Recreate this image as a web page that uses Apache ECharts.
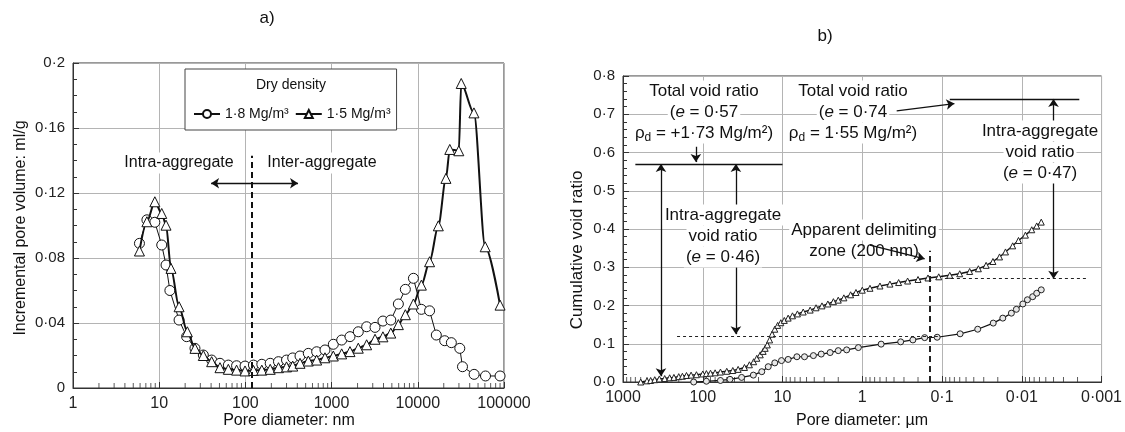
<!DOCTYPE html>
<html><head><meta charset="utf-8">
<script src="https://cdn.jsdelivr.net/npm/echarts@6/dist/echarts.min.js"></script>
<style>html,body{margin:0;padding:0;background:#fff}#c{width:1125px;height:432px}</style>
</head><body><div id="c"></div>
<script>
// ---------- Panel a : incremental pore volume (ml/g) vs pore diameter (nm)
const circA_x = [5.9,7.2,8.9,10.7,12.0,13.3,17,20.8,26,32.5,40.6,50.7,63.4,79,99,124,155,194,242,300,354,430,537,671,838,1047,1309,1634,2040,2550,3190,3940,4860,5950,7170,8900,11000,13700,16400,20500,24500,30700,33000,45000,61000,90000];
const circA_y = [0.089,0.1035,0.102,0.088,0.0757,0.060,0.0418,0.0316,0.0244,0.0203,0.0172,0.0152,0.0141,0.0137,0.0135,0.0141,0.0146,0.0152,0.0162,0.0172,0.0185,0.0197,0.0213,0.0223,0.0234,0.0269,0.0295,0.0316,0.0346,0.0377,0.0373,0.0412,0.0418,0.0517,0.0607,0.0675,0.0484,0.0475,0.0326,0.0291,0.0279,0.0244,0.0131,0.0084,0.0074,0.0074];
const triA_x = [5.9,7.2,8.9,10.7,12.0,13.7,17,21.2,26,32.5,40.6,50.7,63.4,79,99,124,155,194,242,300,354,430,537,671,838,1047,1309,1634,2040,2550,3190,3940,4860,5950,7170,8900,11000,13700,17300,21200,23500,29900,31900,44800,60500,90000];
const triA_y = [0.0843,0.1023,0.1146,0.1074,0.1002,0.0736,0.050,0.0346,0.0244,0.0200,0.0162,0.0125,0.0115,0.0110,0.0105,0.0108,0.0110,0.0115,0.0125,0.0130,0.0135,0.0152,0.0166,0.0172,0.0186,0.0197,0.0210,0.0224,0.0245,0.0266,0.0300,0.0315,0.0338,0.0390,0.0451,0.0517,0.0633,0.0777,0.0998,0.129,0.1468,0.146,0.1874,0.1693,0.0869,0.051];
const xTicksA = ['1','10','100','1000','10000','100000'];
const yTicksA = ['0','0·04','0·08','0·12','0·16','0·2'];
const legendA = ['1·8 Mg/m³','1·5 Mg/m³'];

// ---------- Panel b : cumulative void ratio vs pore diameter (um)
const circB_x = [130,90,60,45.6,32.6,23.2,18.2,15.1,12.5,10.3,8.5,6.6,5.3,4.1,3.27,2.53,2.0,1.57,1.12,0.58,0.33,0.232,0.165,0.115,0.0593,0.0357,0.0228,0.0173,0.0135,0.0117,0.0097,0.0085,0.0073,0.0065,0.0057];
const circB_y = [0.0,0.002,0.004,0.007,0.012,0.018,0.027,0.040,0.050,0.056,0.059,0.066,0.066,0.069,0.073,0.077,0.082,0.084,0.090,0.099,0.105,0.110,0.116,0.117,0.126,0.138,0.154,0.167,0.180,0.190,0.204,0.215,0.223,0.232,0.241];
const triB_x = [600,500,450,400,350,300,260,230,200,180,160,140,120,100,90,80,70,60,50,42,36,30,26,23,21,19,17.5,16.5,15.5,14.5,13.5,12.5,11.5,10.5,9.5,8.5,7.5,6.5,5.5,4.5,3.8,3.2,2.7,2.3,2.0,1.7,1.4,1.2,1.0,0.8,0.6,0.45,0.35,0.27,0.2,0.15,0.11,0.08,0.06,0.045,0.035,0.028,0.023,0.019,0.016,0.013,0.011,0.009,0.0075,0.0065,0.0057];
const triB_y = [0.0,0.003,0.004,0.006,0.008,0.009,0.011,0.012,0.014,0.015,0.017,0.018,0.019,0.021,0.022,0.023,0.024,0.026,0.028,0.030,0.033,0.038,0.045,0.053,0.062,0.071,0.080,0.088,0.097,0.110,0.125,0.138,0.148,0.155,0.161,0.167,0.173,0.178,0.183,0.188,0.194,0.199,0.204,0.210,0.214,0.220,0.228,0.234,0.240,0.245,0.251,0.256,0.260,0.264,0.268,0.272,0.275,0.279,0.283,0.289,0.296,0.305,0.315,0.327,0.340,0.356,0.370,0.384,0.398,0.408,0.418];
const xTicksB = ['0·001','0·01','0·1','1','10','100','1000'];
const yTicksB = ['0·0','0·1','0·2','0·3','0·4','0·5','0·6','0·7','0·8'];

const FF = "'Liberation Sans', Arial, Helvetica, sans-serif";
const INK = '#111';
const zip = (a, b) => a.map((v, i) => [v, b[i]]);
const minorLog = (lo, hi) => { const r = []; for (let d = lo; d < hi * 0.999; d *= 10) for (let k = 2; k <= 9; k++) r.push([d * k, 0]); return r; };

const chart = echarts.init(document.getElementById('c'), null, { renderer: 'canvas' });

const axisCommon = {
  axisLine: { lineStyle: { color: '#333', width: 1 } },
  axisTick: { inside: true, length: 6, lineStyle: { color: '#333' } },
  splitLine: { show: true, lineStyle: { color: '#b4b4b4', width: 1 } },
};
const lbl = (arr, fn, size) => ({ fontSize: size, color: '#222', fontFamily: FF, formatter: v => arr[fn(v)] });

const seg = (x1, y1, x2, y2, s1, s2, style) => [
  { coord: [x1, y1], symbol: s1 || 'none' },
  { coord: [x2, y2], symbol: s2 || 'none', lineStyle: style || {} }
];
const solid = { color: INK, width: 1.3, type: 'solid' };
const dashedThin = { color: '#222', width: 1, type: [3, 3] };
const dashedThick = { color: '#222', width: 2, type: [6, 4] };

const richB = {
  i: { fontStyle: 'italic', fontSize: 17, fontFamily: FF, lineHeight: 21 },
  s: { fontSize: 12, fontFamily: FF, lineHeight: 12, verticalAlign: 'bottom' }
};
const txt = (x, y, text, size, extra) => Object.assign({
  type: 'text', x: x, y: y, z: 100,
  style: Object.assign({ text: text, textAlign: 'center', textVerticalAlign: 'middle', fontSize: size, fontFamily: FF, fill: INK, lineHeight: 21 }, extra || {})
});
// one white-backed text element per line of an annotation block
const block = (x, yTop, lines, noBg) => lines.map((t, k) =>
  txt(x, yTop + 21 * k, t, 17, Object.assign({ padding: [0, 2], rich: richB },
    (noBg && noBg.indexOf(k) >= 0) ? {} : { backgroundColor: '#fff' })));

const option = {
  animation: false,
  backgroundColor: '#fff',
  grid: [
    { left: 73, top: 63, width: 431, height: 325, show: true, borderColor: '#333', borderWidth: 1 },
    { left: 623, top: 76, width: 479, height: 306, show: true, borderColor: '#333', borderWidth: 1 }
  ],
  xAxis: [
    Object.assign({}, axisCommon, { type: 'log', logBase: 10, gridIndex: 0, min: 1, max: 100000, splitNumber: 5,
      axisLabel: lbl(xTicksA, v => Math.round(Math.log10(v)), 16) }),
    Object.assign({}, axisCommon, { type: 'log', logBase: 10, gridIndex: 1, min: 0.001, max: 1000, splitNumber: 6, inverse: true,
      axisLabel: lbl(xTicksB, v => Math.round(Math.log10(v)) + 3, 16) })
  ],
  yAxis: [
    Object.assign({}, axisCommon, { type: 'value', gridIndex: 0, min: 0, max: 0.2, interval: 0.04,
      minorTick: { show: true, splitNumber: 4, length: 4, lineStyle: { color: '#333' } },
      axisLabel: lbl(yTicksA, v => Math.round(v / 0.04), 15) }),
    Object.assign({}, axisCommon, { type: 'value', gridIndex: 1, min: 0, max: 0.8, interval: 0.1,
      minorTick: { show: true, splitNumber: 5, length: 4, lineStyle: { color: '#333' } },
      axisLabel: lbl(yTicksB, v => Math.round(v / 0.1), 15) })
  ],
  legend: {
    data: legendA, left: 185, top: 69, padding: [38, 6, 9, 8], itemGap: 6, itemWidth: 26, itemHeight: 10,
    borderColor: '#444', borderWidth: 1, backgroundColor: '#fff', borderRadius: 0,
    textStyle: { fontSize: 14, fontFamily: FF, color: INK }, selectedMode: false
  },
  series: [
    { type: 'scatter', xAxisIndex: 0, yAxisIndex: 0, data: minorLog(1, 100000), symbol: 'rect', symbolSize: [1, 5], symbolOffset: [0, -2.5],
      itemStyle: { color: '#333' }, silent: true, z: 1 },
    { type: 'scatter', xAxisIndex: 1, yAxisIndex: 1, data: minorLog(0.001, 1000), symbol: 'rect', symbolSize: [1, 5], symbolOffset: [0, -2.5],
      itemStyle: { color: '#333' }, silent: true, z: 1 },
    { name: legendA[0], type: 'line', xAxisIndex: 0, yAxisIndex: 0, data: zip(circA_x, circA_y),
      symbol: 'circle', symbolSize: 10, itemStyle: { color: '#fff', borderColor: INK, borderWidth: 1 },
      lineStyle: { color: INK, width: 1 }, z: 3 },
    { name: legendA[1], type: 'line', xAxisIndex: 0, yAxisIndex: 0, data: zip(triA_x, triA_y),
      symbol: 'triangle', symbolSize: 10, smooth: 0.3, smoothMonotone: 'x',
      itemStyle: { color: '#fff', borderColor: INK, borderWidth: 1 },
      lineStyle: { color: INK, width: 2 }, z: 4,
      markLine: { silent: true, symbol: 'none', symbolSize: 8, label: { show: false }, lineStyle: solid,
        data: [
          seg(40, 0.126, 408, 0.126, 'arrow', 'arrow', { color: INK, width: 1.3, type: 'solid' }),
          seg(119, 0, 119, 0.143, 'none', 'none', { color: INK, width: 2, type: [6, 4] })
        ] } },
    { name: 'e0.57', type: 'line', xAxisIndex: 1, yAxisIndex: 1, data: zip(circB_x, circB_y),
      symbol: 'circle', symbolSize: 6, itemStyle: { color: '#e8e8e8', borderColor: '#222', borderWidth: 1 },
      lineStyle: { color: INK, width: 1.2 }, z: 3 },
    { name: 'e0.74', type: 'line', xAxisIndex: 1, yAxisIndex: 1, data: zip(triB_x, triB_y),
      symbol: 'triangle', symbolSize: 6, itemStyle: { color: '#fff', borderColor: '#222', borderWidth: 1 },
      lineStyle: { color: INK, width: 1.4 }, z: 4,
      markLine: { silent: true, symbol: 'none', symbolSize: 8, label: { show: false }, lineStyle: solid,
        data: [
          seg(700, 0.57, 10, 0.57, 'none', 'none', solid),
          seg(122, 0.615, 122, 0.575, 'none', 'arrow', solid),
          seg(334, 0.57, 334, 0.015, 'arrow', 'arrow', solid),
          seg(38.4, 0.46, 38.4, 0.57, 'none', 'arrow', solid),
          seg(38.4, 0.32, 38.4, 0.125, 'none', 'arrow', solid),
          seg(210, 0.12, 0.113, 0.12, 'none', 'none', dashedThin),
          seg(0.08, 0.74, 0.0019, 0.74, 'none', 'none', solid),
          seg(0.37, 0.709, 0.07, 0.728, 'none', 'arrow', solid),
          seg(0.004, 0.74, 0.004, 0.27, 'arrow', 'arrow', solid),
          seg(0.092, 0.27, 0.0015, 0.27, 'none', 'none', dashedThin),
          seg(0.142, 0, 0.142, 0.343, 'none', 'none', dashedThick),
          seg(0.8, 0.358, 0.165, 0.322, 'none', 'arrow', solid)
        ] } }
  ],
  graphic: [
    txt(267, 18, 'a)', 17),
    txt(825, 36, 'b)', 17),
    txt(289, 421, 'Pore diameter: nm', 16),
    txt(862, 421, 'Pore diameter: µm', 16),
    Object.assign(txt(21, 228, 'Incremental pore volume: ml/g', 16), { rotation: Math.PI / 2 }),
    Object.assign(txt(577, 250, 'Cumulative void ratio', 17), { rotation: Math.PI / 2 }),
    txt(291, 85, 'Dry density', 14, { z: 101 }),
    txt(179, 163, 'Intra-aggregate', 16, { backgroundColor: '#fff' }),
    txt(322, 163, 'Inter-aggregate', 16, { backgroundColor: '#fff' })
  ].concat(
    block(704, 91, ['Total void ratio', '({i|e} = 0·57', 'ρ{s|d} = +1·73 Mg/m²)']),
    block(853, 91, ['Total void ratio', '({i|e} = 0·74', 'ρ{s|d} = 1·55 Mg/m²)']),
    block(723, 215, ['Intra-aggregate', 'void ratio', '({i|e} = 0·46)']),
    block(864, 230, ['Apparent delimiting', 'zone (200 nm)'], [1]),
    block(1040, 131, ['Intra-aggregate', 'void ratio', '({i|e} = 0·47)'])
  )
};
chart.setOption(option);
</script>
</body></html>
